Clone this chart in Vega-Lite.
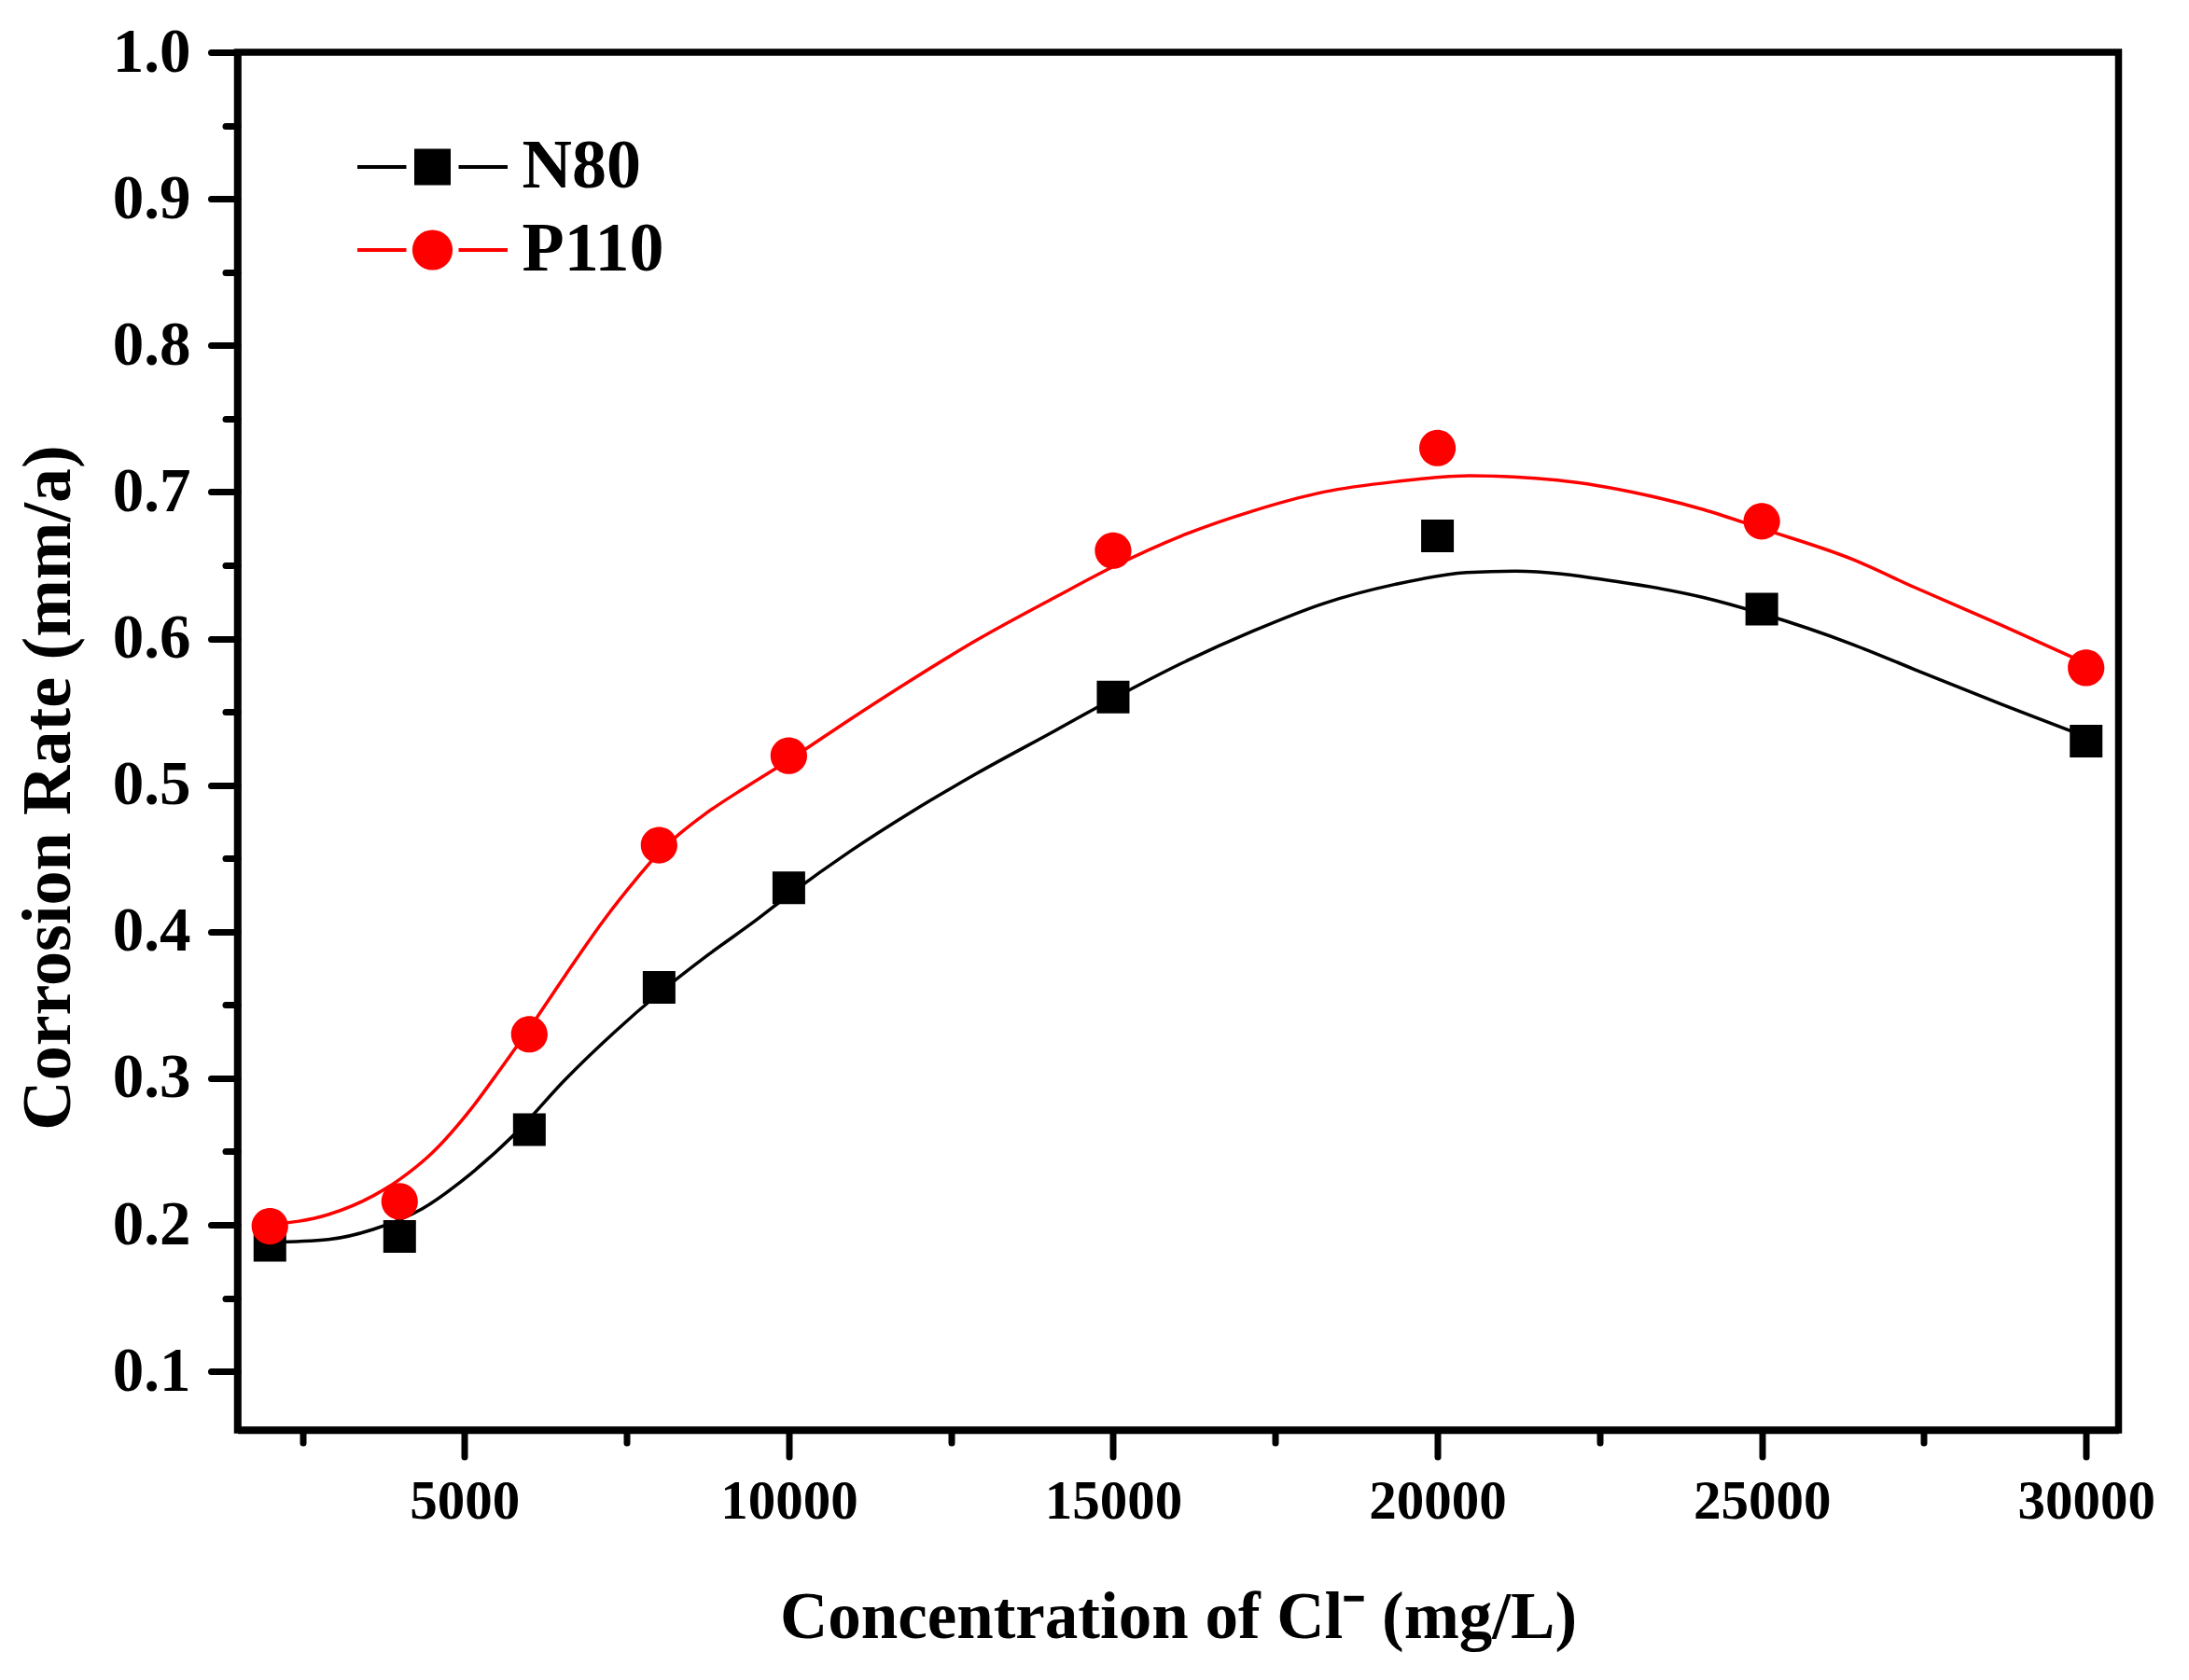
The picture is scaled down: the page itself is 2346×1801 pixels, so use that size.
{
  "$schema": "https://vega.github.io/schema/vega-lite/v6.json",
  "width": 2016,
  "height": 1477,
  "autosize": {"type": "none"},
  "padding": {"left": 254.5, "top": 56, "right": 75.5, "bottom": 268},
  "background": "white",
  "config": {
    "font": "Liberation Serif",
    "view": {"stroke": "black", "strokeWidth": 7.5},
    "legend": {"symbolStrokeWidth": 4},
    "axis": {
      "grid": false,
      "labelFont": "Liberation Serif",
      "labelFontWeight": "bold",
      "labelColor": "black",
      "titleFont": "Liberation Serif",
      "titleFontWeight": "bold",
      "titleColor": "black",
      "domainColor": "black",
      "domainWidth": 7.5,
      "tickColor": "black",
      "tickWidth": 7,
      "tickCap": "round"
    }
  },
  "datasets": {
    "points": [
      {"conc": 2000, "rate": 0.186, "series": "N80"},
      {"conc": 4000, "rate": 0.192, "series": "N80"},
      {"conc": 6000, "rate": 0.265, "series": "N80"},
      {"conc": 8000, "rate": 0.362, "series": "N80"},
      {"conc": 10000, "rate": 0.430, "series": "N80"},
      {"conc": 15000, "rate": 0.560, "series": "N80"},
      {"conc": 20000, "rate": 0.670, "series": "N80"},
      {"conc": 25000, "rate": 0.620, "series": "N80"},
      {"conc": 30000, "rate": 0.530, "series": "N80"},
      {"conc": 2000, "rate": 0.199, "series": "P110"},
      {"conc": 4000, "rate": 0.216, "series": "P110"},
      {"conc": 6000, "rate": 0.330, "series": "P110"},
      {"conc": 8000, "rate": 0.459, "series": "P110"},
      {"conc": 10000, "rate": 0.520, "series": "P110"},
      {"conc": 15000, "rate": 0.660, "series": "P110"},
      {"conc": 20000, "rate": 0.730, "series": "P110"},
      {"conc": 25000, "rate": 0.680, "series": "P110"},
      {"conc": 30000, "rate": 0.580, "series": "P110"}
    ],
    "fits": [
      {"conc": 2000, "rate": 0.188, "series": "N80"},
      {"conc": 2900, "rate": 0.190, "series": "N80"},
      {"conc": 3600, "rate": 0.197, "series": "N80"},
      {"conc": 4350, "rate": 0.211, "series": "N80"},
      {"conc": 5100, "rate": 0.235, "series": "N80"},
      {"conc": 5800, "rate": 0.263, "series": "N80"},
      {"conc": 6550, "rate": 0.299, "series": "N80"},
      {"conc": 7300, "rate": 0.331, "series": "N80"},
      {"conc": 8000, "rate": 0.358, "series": "N80"},
      {"conc": 8750, "rate": 0.384, "series": "N80"},
      {"conc": 9500, "rate": 0.408, "series": "N80"},
      {"conc": 10000, "rate": 0.425, "series": "N80"},
      {"conc": 10950, "rate": 0.455, "series": "N80"},
      {"conc": 11900, "rate": 0.482, "series": "N80"},
      {"conc": 12900, "rate": 0.508, "series": "N80"},
      {"conc": 14100, "rate": 0.537, "series": "N80"},
      {"conc": 15000, "rate": 0.559, "series": "N80"},
      {"conc": 16050, "rate": 0.583, "series": "N80"},
      {"conc": 17150, "rate": 0.605, "series": "N80"},
      {"conc": 18250, "rate": 0.624, "series": "N80"},
      {"conc": 19350, "rate": 0.637, "series": "N80"},
      {"conc": 20450, "rate": 0.645, "series": "N80"},
      {"conc": 21200, "rate": 0.646, "series": "N80"},
      {"conc": 22750, "rate": 0.639, "series": "N80"},
      {"conc": 24100, "rate": 0.628, "series": "N80"},
      {"conc": 25000, "rate": 0.617, "series": "N80"},
      {"conc": 26400, "rate": 0.596, "series": "N80"},
      {"conc": 27350, "rate": 0.579, "series": "N80"},
      {"conc": 28700, "rate": 0.555, "series": "N80"},
      {"conc": 30000, "rate": 0.533, "series": "N80"},
      {"conc": 2000, "rate": 0.200, "series": "P110"},
      {"conc": 2900, "rate": 0.207, "series": "P110"},
      {"conc": 3600, "rate": 0.220, "series": "P110"},
      {"conc": 4000, "rate": 0.231, "series": "P110"},
      {"conc": 4500, "rate": 0.249, "series": "P110"},
      {"conc": 5100, "rate": 0.279, "series": "P110"},
      {"conc": 5550, "rate": 0.306, "series": "P110"},
      {"conc": 6000, "rate": 0.334, "series": "P110"},
      {"conc": 6550, "rate": 0.370, "series": "P110"},
      {"conc": 7150, "rate": 0.408, "series": "P110"},
      {"conc": 7650, "rate": 0.436, "series": "P110"},
      {"conc": 8000, "rate": 0.454, "series": "P110"},
      {"conc": 8350, "rate": 0.468, "series": "P110"},
      {"conc": 8700, "rate": 0.480, "series": "P110"},
      {"conc": 9350, "rate": 0.499, "series": "P110"},
      {"conc": 10000, "rate": 0.517, "series": "P110"},
      {"conc": 10950, "rate": 0.545, "series": "P110"},
      {"conc": 11900, "rate": 0.572, "series": "P110"},
      {"conc": 12900, "rate": 0.599, "series": "P110"},
      {"conc": 14100, "rate": 0.628, "series": "P110"},
      {"conc": 15000, "rate": 0.649, "series": "P110"},
      {"conc": 16050, "rate": 0.670, "series": "P110"},
      {"conc": 17150, "rate": 0.687, "series": "P110"},
      {"conc": 18250, "rate": 0.700, "series": "P110"},
      {"conc": 19350, "rate": 0.707, "series": "P110"},
      {"conc": 20500, "rate": 0.711, "series": "P110"},
      {"conc": 21850, "rate": 0.708, "series": "P110"},
      {"conc": 23200, "rate": 0.698, "series": "P110"},
      {"conc": 24100, "rate": 0.688, "series": "P110"},
      {"conc": 25000, "rate": 0.675, "series": "P110"},
      {"conc": 26400, "rate": 0.654, "series": "P110"},
      {"conc": 27350, "rate": 0.635, "series": "P110"},
      {"conc": 28700, "rate": 0.609, "series": "P110"},
      {"conc": 30000, "rate": 0.583, "series": "P110"}
    ]
  },
  "layer": [
    {
      "data": {"name": "fits"},
      "mark": {"type": "line", "strokeWidth": 3.5, "interpolate": "monotone"},
      "encoding": {
        "x": {
          "field": "conc",
          "type": "quantitative",
          "scale": {"domain": [1500, 30500], "nice": false, "zero": false},
          "axis": {
            "orient": "bottom",
            "values": [5000, 10000, 15000, 20000, 25000, 30000],
            "format": "d",
            "labelFontSize": 59,
            "tickSize": 28.5,
            "labelPadding": 19,
            "title": "Concentration of Cl⁻ (mg/L)",
            "titleFontSize": 71,
            "titleY": 222,
            "titleBaseline": "alphabetic"
          }
        },
        "y": {
          "field": "rate",
          "type": "quantitative",
          "scale": {"domain": [0.06, 1.0], "nice": false, "zero": false},
          "axis": {
            "orient": "left",
            "values": [0.1, 0.2, 0.3, 0.4, 0.5, 0.6, 0.7, 0.8, 0.9, 1.0],
            "format": ".1f",
            "labelFontSize": 67,
            "tickSize": 28.5,
            "labelPadding": 22,
            "title": "Corrosion Rate (mm/a)",
            "titleFontSize": 74,
            "titleAngle": 270,
            "titleX": -180.5,
            "titleY": 788,
            "titleAlign": "center",
            "titleBaseline": "alphabetic"
          }
        },
        "detail": {"field": "series", "type": "nominal"},
        "stroke": {
          "condition": {"test": "datum.series === 'P110'", "value": "#ff0000"},
          "value": "#000000"
        }
      }
    },
    {
      "data": {"name": "points"},
      "mark": {"type": "point", "filled": true, "size": 1225, "strokeWidth": 0, "opacity": 1},
      "encoding": {
        "x": {
          "field": "conc",
          "type": "quantitative",
          "scale": {"domain": [1500, 30500], "nice": false, "zero": false},
          "axis": {
            "orient": "bottom",
            "values": [2500, 7500, 12500, 17500, 22500, 27500],
            "labels": false,
            "domain": false,
            "title": null,
            "tickSize": 13.5
          }
        },
        "y": {
          "field": "rate",
          "type": "quantitative",
          "scale": {"domain": [0.06, 1.0], "nice": false, "zero": false},
          "axis": {
            "orient": "left",
            "values": [0.15, 0.25, 0.35, 0.45, 0.55, 0.65, 0.75, 0.85, 0.95],
            "labels": false,
            "domain": false,
            "title": null,
            "tickSize": 13
          }
        },
        "color": {
          "field": "series",
          "type": "nominal",
          "scale": {"domain": ["N80", "P110"], "range": ["#000000", "#ff0000"]},
          "legend": {
            "title": null, "orient": "none", "legendX": 172, "legendY": 86, "padding": 0,
            "labelFontSize": 74, "labelFont": "Liberation Serif", "labelFontWeight": "bold", "labelColor": "black",
            "labelOffset": 59, "symbolSize": 1225, "rowPadding": 15,
            "encode": {"symbols": {"strokeWidth": {"value": 4}}}
          }
        },
        "shape": {
          "field": "series",
          "type": "nominal",
          "scale": {
            "domain": ["N80", "P110"],
            "range": [
              "M-1,-1H1V1H-1ZM-4.6,0H-1.6M1.6,0H4.6",
              "M1.12,0A1.12,1.12 0 1,1 -1.12,0A1.12,1.12 0 1,1 1.12,0ZM-4.6,0H-1.6M1.6,0H4.6"
            ]
          },
          "legend": {
            "title": null, "orient": "none", "legendX": 172, "legendY": 86, "padding": 0,
            "labelFontSize": 74, "labelFont": "Liberation Serif", "labelFontWeight": "bold", "labelColor": "black",
            "labelOffset": 59, "symbolSize": 1225, "rowPadding": 15,
            "encode": {"symbols": {"strokeWidth": {"value": 4}}}
          }
        },
        "stroke": {
          "field": "series",
          "type": "nominal",
          "scale": {"domain": ["N80", "P110"], "range": ["#000000", "#ff0000"]},
          "legend": {
            "title": null, "orient": "none", "legendX": 172, "legendY": 86, "padding": 0,
            "labelFontSize": 74, "labelFont": "Liberation Serif", "labelFontWeight": "bold", "labelColor": "black",
            "labelOffset": 59, "symbolSize": 1225, "rowPadding": 15,
            "encode": {"symbols": {"strokeWidth": {"value": 4}}}
          }
        }
      }
    }
  ],
  "resolve": {"axis": {"x": "independent", "y": "independent"}}
}
